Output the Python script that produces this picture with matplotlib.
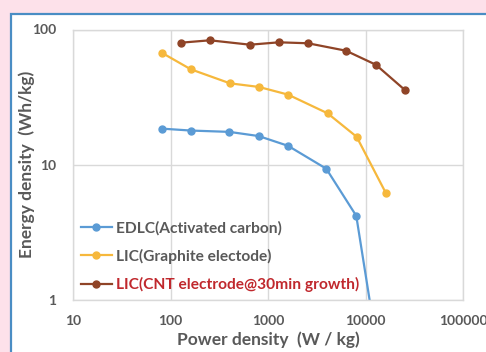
import matplotlib
matplotlib.use("Agg")
import matplotlib.pyplot as plt
from matplotlib.patches import Rectangle
from matplotlib.ticker import FixedLocator, NullLocator

plt.rcParams['font.family'] = ['Lato', 'DejaVu Sans']

edlc_p = [81, 161, 400, 800, 1600, 3940, 8000, 12500]
edlc_e = [18.5, 17.9, 17.5, 16.3, 13.8, 9.35, 4.19, 0.55]

gra_p = [81, 161, 406, 805, 1600, 4070, 8070, 16000]
gra_e = [67.4, 50.8, 40.0, 37.6, 33.0, 24.0, 16.1, 6.22]

cnt_p = [128, 253, 651, 1290, 2560, 6270, 12700, 25200]
cnt_e = [79.9, 83.2, 77.2, 80.4, 79.1, 69.7, 54.9, 35.7]

labels = ["EDLC(Activated carbon)", "LIC(Graphite electode)", "LIC(CNT electrode@30min growth)"]
x_ticks = [10, 100, 1000, 10000, 100000]
y_ticks = [1, 10, 100]

W, H = 486, 352
fig = plt.figure(figsize=(W / 100, H / 100), dpi=100)
fig.patch.set_facecolor('#fde1ea')
panel = Rectangle((11 / W, -0.05), 1.2, 1 - 14 / H + 0.05, transform=fig.transFigure,
                  facecolor='white', edgecolor='#4a8dc4', linewidth=1.6, zorder=-5)
fig.patches.append(panel)

ax = fig.add_axes([73 / W, 1 - 300 / H, (463.3 - 73) / W, (300 - 29.5) / H])
ax.set_facecolor('none')
ax.set_xscale('log')
ax.set_yscale('log')
ax.set_xlim(10, 100000)
ax.set_ylim(1, 100)

cols = ['#5b9bd5', '#f6b83c', '#8f4427']
ax.plot(edlc_p, edlc_e, color=cols[0], marker='o', markersize=5, linewidth=1.6, label=labels[0], clip_on=True)
ax.plot(gra_p, gra_e, color=cols[1], marker='o', markersize=5, linewidth=1.6, label=labels[1])
ax.plot(cnt_p, cnt_e, color=cols[2], marker='o', markersize=5, linewidth=1.6, label=labels[2])

ax.xaxis.set_major_locator(FixedLocator(x_ticks))
ax.yaxis.set_major_locator(FixedLocator(y_ticks))
ax.xaxis.set_minor_locator(NullLocator())
ax.yaxis.set_minor_locator(NullLocator())
ax.set_xticklabels([str(v) for v in x_ticks])
ax.set_yticklabels([str(v) for v in y_ticks])
ax.tick_params(length=0, labelsize=10, labelcolor='#595959')
ax.tick_params(axis='x', pad=11)
ax.tick_params(axis='y', pad=12)
for t in ax.get_xticklabels() + ax.get_yticklabels():
    t.set_fontweight('bold')
ax.grid(True, color='#d9d9d9', linewidth=1)
ax.set_axisbelow(True)
for s in ax.spines.values():
    s.set_color('#d9d9d9')
    s.set_linewidth(1)

ax.set_xlabel('Power density  (W / kg)', fontsize=12.5, fontweight='bold', color='#595959', labelpad=3)
ax.set_ylabel('Energy density  (Wh/kg)', fontsize=12.5, fontweight='bold', color='#595959', labelpad=-2)

leg = ax.legend(loc='lower left', bbox_to_anchor=(0.0, 0.0), frameon=False, fontsize=11.2,
                handlelength=2.0, handletextpad=0.25, labelspacing=0.85, borderaxespad=0.1)
for t, c in zip(leg.get_texts(), ['#595959', '#595959', '#c0282d']):
    t.set_color(c)
    t.set_fontweight('bold')

fig.savefig('out.png', dpi=100, facecolor=fig.get_facecolor())
